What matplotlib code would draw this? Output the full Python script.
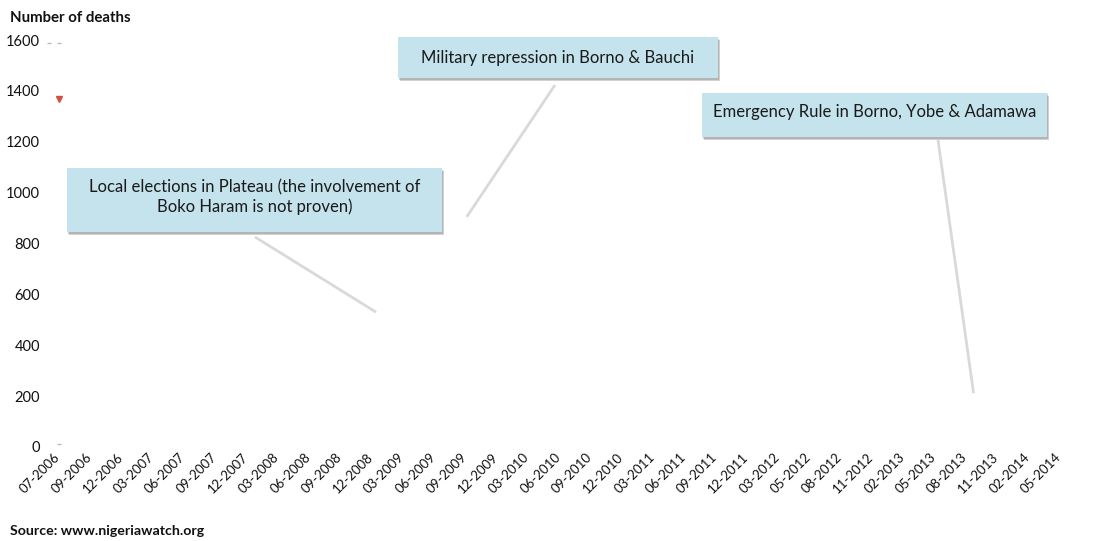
import matplotlib
matplotlib.use("Agg")
import matplotlib.pyplot as plt
from matplotlib.patches import Rectangle
from matplotlib.lines import Line2D

plt.rcParams['font.family'] = ['Lato', 'DejaVu Sans']

# ---- data ----
categories = ["07-2006", "09-2006", "12-2006", "03-2007", "06-2007", "09-2007", "12-2007",
              "03-2008", "06-2008", "09-2008", "12-2008", "03-2009", "06-2009", "09-2009",
              "12-2009", "03-2010", "06-2010", "09-2010", "12-2010", "03-2011", "06-2011",
              "09-2011", "12-2011", "03-2012", "05-2012", "08-2012", "11-2012", "02-2013",
              "05-2013", "08-2013", "11-2013", "02-2014", "05-2014"]
y_ticks = [0, 200, 400, 600, 800, 1000, 1200, 1400, 1600]

event_labels = ["Local elections in Plateau (the involvement of\nBoko Haram is not proven)",
                "Military repression in Borno & Bauchi",
                "Emergency Rule in Borno, Yobe & Adamawa"]
event_x = [10.2, 13.1, 29.3]     # position on the category axis
event_y = [530, 905, 212]        # number of deaths

marker_x = [0.05]
marker_y = [1368]

# ---- figure ----
W, H = 1117, 541
fig = plt.figure(figsize=(W / 100, H / 100), dpi=100)
ax = fig.add_axes([47 / W, (H - 447) / H, (1075 - 47) / W, (447 - 40) / H])
n = len(categories)
sp = (1058 - 57) / (n - 1)
ax.set_xlim(-(57 - 47) / sp, (n - 1) + (1075 - 1058) / sp)
ax.set_ylim(0, 1600)

for s in ax.spines.values():
    s.set_visible(False)
ax.set_xticks([i - 0.1 for i in range(n)])
ax.set_xticklabels(categories, rotation=45, ha='right', rotation_mode='anchor',
                   fontsize=9.5, color='#111111')
ax.set_yticks(y_ticks)
ax.set_yticklabels([str(v) for v in y_ticks], fontsize=10.5, color='#111111')
ax.tick_params(axis='both', length=0)
ax.tick_params(axis='y', pad=5)
ax.tick_params(axis='x', pad=3)

# tiny stray marks near the axis origin
ax.plot(marker_x, marker_y, linestyle='none', marker='v', markersize=5,
        color='#d0504a', clip_on=False)
ax.plot([-0.25, 0.05], [1590, 1590], linestyle='none', marker='_', markersize=3,
        color='#bbbbbb', clip_on=False)
ax.plot([0.05], [12], linestyle='none', marker='_', markersize=3,
        color='#bbbbbb', clip_on=False)

# ---- annotation boxes (pixel layout) ----
boxes = [(67, 168, 442, 232), (398, 37, 718, 78), (702, 93, 1047, 137)]
text_cy = [197, 57.5, 112]
line_start = [(255, 237), (555, 85), (938, 140)]

def fx(px):
    return px / W

def fy(py):
    return (H - py) / H

for (x0, y0, x1, y1), lab, tcy, (lx, ly), ex, ey in zip(boxes, event_labels, text_cy,
                                                       line_start, event_x, event_y):
    # leader line from box to event point (event in data coords)
    dx, dy = ax.transData.transform((ex, ey))
    fig.add_artist(Line2D([fx(lx), dx / W], [fy(ly), dy / H], color='#d9d9d9',
                          lw=2.0, solid_capstyle='butt', zorder=1))
    # shadow
    fig.add_artist(Rectangle((fx(x0 + 2), fy(y1 + 3)), fx(x1 - x0), (y1 - y0) / H,
                             facecolor='#9a9a9a', edgecolor='none', alpha=0.45, zorder=2))
    fig.add_artist(Rectangle((fx(x0 + 1), fy(y1 + 1.5)), fx(x1 - x0), (y1 - y0) / H,
                             facecolor='#8a8a8a', edgecolor='none', alpha=0.4, zorder=2))
    # box
    fig.add_artist(Rectangle((fx(x0), fy(y1)), fx(x1 - x0), (y1 - y0) / H,
                             facecolor='#c4e3ec', edgecolor='none', zorder=3))
    fig.text(fx((x0 + x1) / 2), fy(tcy), lab, ha='center', va='center',
             fontsize=12, color='#1a1a1a', linespacing=1.2, zorder=4)

fig.text(10 / W, fy(18), "Number of deaths", fontsize=10.8, fontweight='bold',
         ha='left', va='center', color='#111111')
fig.text(10 / W, fy(531), "Source: www.nigeriawatch.org", fontsize=10.2, fontweight='bold',
         ha='left', va='center', color='#111111')

fig.savefig("out.png", dpi=100, facecolor='white')
